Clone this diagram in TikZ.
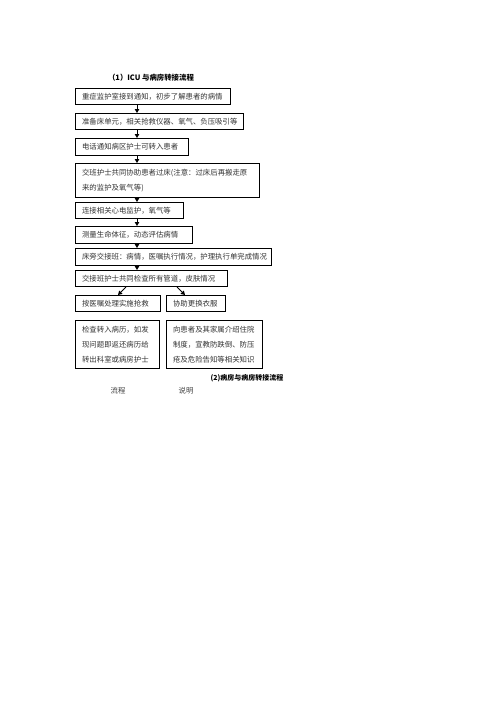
\documentclass[tikz,border=0pt]{standalone}
\usepackage{fontspec}
\newfontfamily\cjk{Noto Sans CJK SC}
\usetikzlibrary{arrows.meta}
\begin{document}
\begin{tikzpicture}[x=1pt,y=-1pt,
  box/.style={draw=black, line width=1.1pt, anchor=north west, inner xsep=6pt, inner ysep=0pt,
    align=left, text=black!80, font=\cjk\fontsize{7.4}{15}\selectfont},
  arr/.style={-{Triangle[length=4pt,width=4.5pt]}, line width=0.9pt, black},
  ttl/.style={font=\cjk\bfseries\fontsize{7.4}{9}\selectfont, inner sep=0pt, text=black},
  lbl/.style={font=\cjk\fontsize{7.4}{9}\selectfont, inner sep=0pt, text=black!75}]
\useasboundingbox (0,0) rectangle (496,702);
\node[ttl] (t1) at (151,78) {（1）ICU 与病房转接流程};
\node[box, minimum width=155, minimum height=16, text width=142] (b1) at (75,88) {重症监护室接到通知，初步了解患者的病情};
\node[box, minimum width=168, minimum height=16, text width=155] (b2) at (75,113) {准备床单元，相关抢救仪器、氧气、负压吸引等};
\node[box, minimum width=113, minimum height=17, text width=100] (b3) at (75,138) {电话通知病区护士可转入患者};
\node[box, minimum width=184, minimum height=34, text width=171] (b4) at (75,163) {交班护士共同协助患者过床(注意：过床后再搬走原\\来的监护及氧气等)};
\node[box, minimum width=108, minimum height=16, text width=95] (b5) at (75,202) {连接相关心电监护，氧气等};
\node[box, minimum width=117, minimum height=17, text width=104] (b6) at (75,226) {测量生命体征，动态评估病情};
\node[box, minimum width=196, minimum height=17, text width=183] (b7) at (75,248) {床旁交接班：病情，医嘱执行情况，护理执行单完成情况};
\node[box, minimum width=152, minimum height=16, text width=139] (b8) at (75,270) {交接班护士共同检查所有管道，皮肤情况};
\node[box, minimum width=85, minimum height=16, text width=72] (b9l) at (75,295) {按医嘱处理实施抢救};
\node[box, minimum width=59, minimum height=16, text width=46] (b9r) at (166,295) {协助更换衣服};
\node[box, minimum width=84, minimum height=48, text width=71] (b10l) at (75,320) {检查转入病历，如发\\现问题即返还病历给\\转出科室或病房护士};
\node[box, minimum width=96, minimum height=48, text width=83] (b10r) at (166,320) {向患者及其家属介绍住院\\制度，宣教防跌倒、防压\\疮及危险告知等相关知识};
\node[ttl, font=\cjk\bfseries\fontsize{7}{9}\selectfont] (t2) at (247,378) {(2)病房与病房转接流程};
\node[lbl] (l1) at (118,391) {流程};
\node[lbl] (l2) at (186,391) {说明};
\coordinate (ax) at (137,0);
\foreach \a/\b in {b1/b2,b2/b3,b3/b4,b4/b5,b5/b6,b6/b7,b7/b8}{
  \draw[arr] (ax |- \a.south) -- (ax |- \b.north);
}
\coordinate (dl1) at (126,0);
\coordinate (dl2) at (118,0);
\coordinate (dr1) at (177,0);
\coordinate (dr2) at (185,0);
\draw[arr] (dl1 |- b8.south) -- (dl2 |- b9l.north);
\draw[arr] (dr1 |- b8.south) -- (dr2 |- b9r.north);
\end{tikzpicture}
\end{document}
